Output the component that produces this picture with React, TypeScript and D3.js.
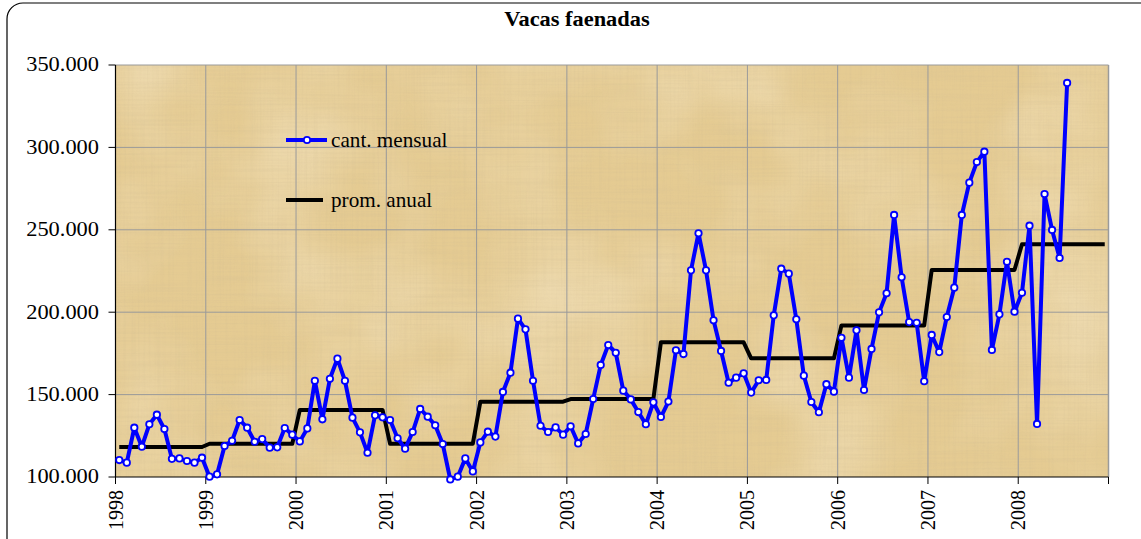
import React from 'react';
import * as d3 from 'd3';

const W = 1141;
const H = 539;

// thousands of heads, monthly Jan 1998 .. Jul 2008
const cantMensual: number[] = [
  110.3, 108.7, 129.9, 118.4, 132.0, 137.8, 129.1, 111.0, 111.3, 109.7, 108.7, 111.7,
  100.2, 101.6, 118.8, 122.0, 134.6, 129.9, 121.4, 123.0, 117.8, 118.0, 129.7, 125.7,
  121.6, 129.5, 158.4, 135.0, 159.6, 171.8, 158.4, 136.0, 127.1, 114.7, 137.4, 136.2,
  134.6, 123.5, 117.2, 127.3, 141.3, 136.6, 131.4, 120.0, 98.5, 100.2, 111.3, 103.4,
  121.0, 127.5, 124.5, 151.6, 163.3, 196.1, 189.6, 158.4, 131.1, 127.3, 130.1, 125.7,
  130.8, 120.4, 126.1, 147.3, 168.0, 180.1, 175.4, 152.4, 147.1, 139.4, 132.0, 145.3,
  136.4, 145.8, 176.9, 174.6, 225.4, 247.9, 225.4, 195.1, 176.5, 157.2, 160.3, 162.9,
  151.2, 158.7, 158.9, 198.1, 226.4, 223.4, 195.7, 161.5, 145.5, 139.3, 156.3, 151.8,
  184.5, 160.3, 189.0, 152.8, 177.7, 199.9, 211.5, 259.0, 221.2, 194.0, 193.6, 158.1,
  186.2, 175.8, 197.1, 214.9, 259.0, 278.6, 291.1, 297.4, 177.1, 198.7, 230.6, 200.3,
  211.8, 252.5, 132.2, 271.7, 249.9, 232.9, 339.1,
];

const promAnual: number[] = [118.2, 120.2, 140.7, 120.2, 145.7, 147.3, 181.7, 172.0, 192.0, 225.6, 241.2];

const yearLabels: string[] = ['1998', '1999', '2000', '2001', '2002', '2003', '2004', '2005', '2006', '2007', '2008'];

const yTicks: number[] = [100000, 150000, 200000, 250000, 300000, 350000];

const seriesNames: string[] = ['cant. mensual', 'prom. anual'];

const locale = d3.formatLocale({ decimal: ',', thousands: '.', grouping: [3], currency: ['', ''] });
const fmt = locale.format(',d');

export default function App() {
  const left = 115.5, right = 1108.5, top = 65, bottom = 477;
  const nMonths = yearLabels.length * 12;
  const x = d3.scaleLinear().domain([0, nMonths]).range([left, right]);
  const y = d3.scaleLinear().domain([100000, 350000]).range([bottom, top]);

  const promMonthly: number[] = [];
  promAnual.forEach((v) => { for (let m = 0; m < 12; m++) promMonthly.push(v); });

  const line = d3.line<number>().x((_, i) => x(i + 0.5)).y((d) => y(d * 1000));

  const sx = 1.12;
  const sxL = 1.06;
  const serif = '"Liberation Serif", "Times New Roman", serif';

  return (
    <svg width={W} height={H} style={{ position: 'absolute', left: 0, top: 0, background: '#fff' }}>
      <defs>
        <filter id="fibV" x="0" y="0" width="100%" height="100%">
          <feTurbulence type="fractalNoise" baseFrequency="0.01 0.5" numOctaves="2" seed="4" />
          <feColorMatrix type="matrix" values="0 0 0 0 0.6  0 0 0 0 0.48  0 0 0 0 0.28  0 0 0 1.4 -0.55" />
        </filter>
        <filter id="fibH" x="0" y="0" width="100%" height="100%">
          <feTurbulence type="fractalNoise" baseFrequency="0.5 0.01" numOctaves="2" seed="9" />
          <feColorMatrix type="matrix" values="0 0 0 0 0.6  0 0 0 0 0.48  0 0 0 0 0.28  0 0 0 1.4 -0.6" />
        </filter>
        <filter id="blot" x="0" y="0" width="100%" height="100%">
          <feTurbulence type="fractalNoise" baseFrequency="0.008" numOctaves="3" seed="2" />
          <feColorMatrix type="matrix" values="0 0 0 0 1  0 0 0 0 0.96  0 0 0 0 0.85  0 0 0 1.3 -0.5" />
        </filter>
      </defs>

      <rect x={7} y={3} width={1160} height={560} rx={16} fill="#fff" stroke="#000" strokeWidth={1.2} />

      <text x={577} y={26} textAnchor="middle" fontFamily={serif} fontWeight="bold" fontSize={20}
        transform={`translate(577,0) scale(${sx},1) translate(-577,0)`}>Vacas faenadas</text>

      {/* plot background */}
      <rect x={left} y={top} width={right - left} height={bottom - top} fill="#E5CB92" />
      <rect x={left} y={top} width={right - left} height={bottom - top} filter="url(#blot)" opacity={0.45} />
      <rect x={left} y={top} width={right - left} height={bottom - top} filter="url(#fibV)" opacity={0.28} />
      <rect x={left} y={top} width={right - left} height={bottom - top} filter="url(#fibH)" opacity={0.22} />

      {/* grid */}
      {yTicks.slice(1).map((t) => (
        <line key={'gy' + t} x1={left} x2={right} y1={y(t)} y2={y(t)} stroke="#9a9a9a" strokeWidth={1} />
      ))}
      {yearLabels.map((_, i) => i > 0 && (
        <line key={'gx' + i} x1={x(i * 12)} x2={x(i * 12)} y1={top} y2={bottom} stroke="#9a9a9a" strokeWidth={1} />
      ))}
      <line x1={right} x2={right} y1={top} y2={bottom} stroke="#9a9a9a" strokeWidth={1.5} />

      {/* axes */}
      <line x1={left} x2={left} y1={top} y2={bottom} stroke="#000" strokeWidth={1.2} />
      <line x1={left} x2={right} y1={bottom} y2={bottom} stroke="#000" strokeWidth={1.2} />
      {yTicks.map((t) => (
        <g key={'ty' + t}>
          <line x1={left - 7} x2={left} y1={y(t)} y2={y(t)} stroke="#000" strokeWidth={1} />
          <text x={99} y={y(t) + 6.5} textAnchor="end" fontFamily={serif} fontSize={20}
            transform={`translate(99,0) scale(${sx},1) translate(-99,0)`}>{fmt(t)}</text>
        </g>
      ))}
      {d3.range(yearLabels.length + 1).map((i) => (
        <line key={'tx' + i} x1={x(i * 12)} x2={x(i * 12)} y1={bottom} y2={bottom + 7} stroke="#000" strokeWidth={1} />
      ))}
      {yearLabels.map((lab, i) => (
        <text key={'lx' + i} transform={`translate(${x(i * 12) + 7},${490}) rotate(-90)`} textAnchor="end"
          fontFamily={serif} fontSize={20}>{lab}</text>
      ))}

      {/* series */}
      <path d={line(promMonthly) || ''} fill="none" stroke="#000" strokeWidth={4} strokeLinejoin="round" />
      <path d={line(cantMensual) || ''} fill="none" stroke="#0000FF" strokeWidth={4} strokeLinejoin="round" />
      {cantMensual.map((v, i) => (
        <circle key={'p' + i} cx={x(i + 0.5)} cy={y(v * 1000)} r={3.2} fill="#fff" stroke="#0000FF" strokeWidth={1.8} />
      ))}

      {/* legend */}
      <line x1={286} x2={327} y1={140} y2={140} stroke="#0000FF" strokeWidth={4} />
      <circle cx={307} cy={140} r={3.2} fill="#fff" stroke="#0000FF" strokeWidth={1.8} />
      <text x={331} y={147} fontFamily={serif} fontSize={20}
        transform={`translate(331,0) scale(${sxL},1) translate(-331,0)`}>{seriesNames[0]}</text>
      <line x1={286} x2={323} y1={200} y2={200} stroke="#000" strokeWidth={4} />
      <text x={331} y={207} fontFamily={serif} fontSize={20}
        transform={`translate(331,0) scale(${sxL},1) translate(-331,0)`}>{seriesNames[1]}</text>
    </svg>
  );
}
